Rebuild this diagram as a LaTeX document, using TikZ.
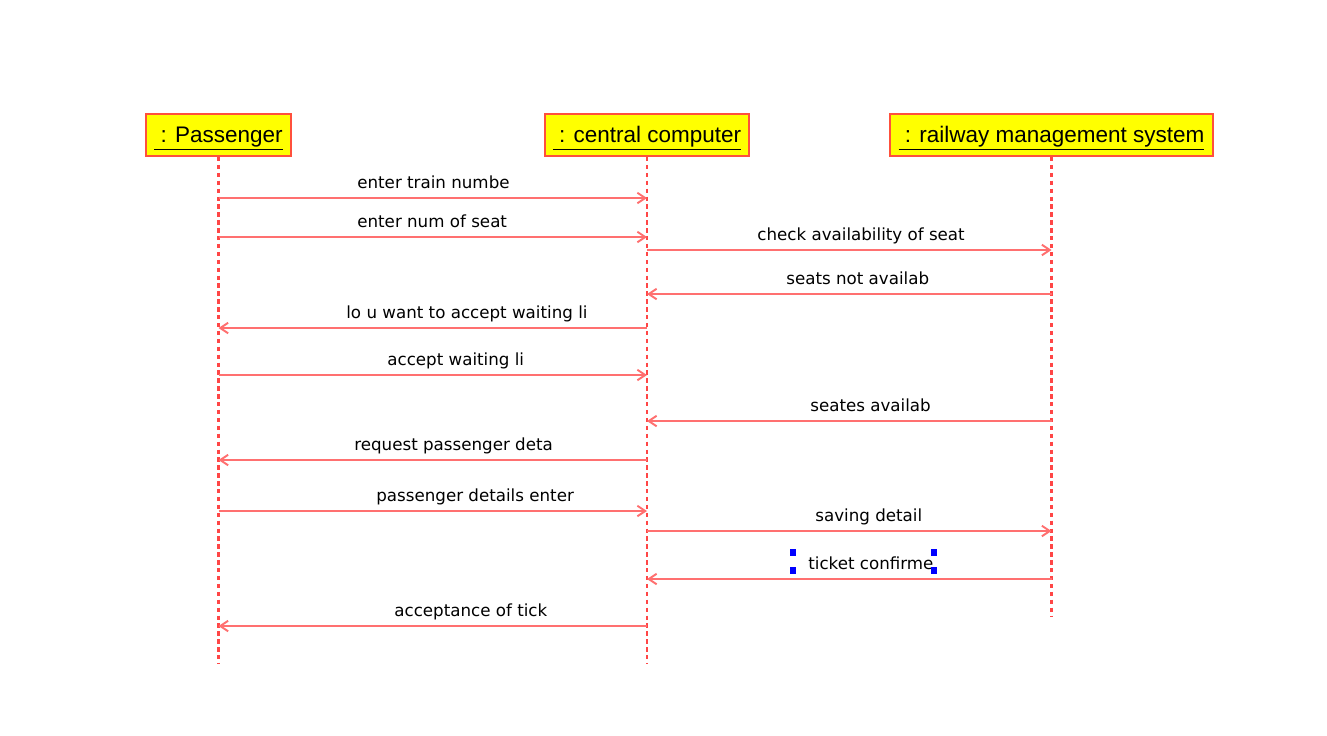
\documentclass[tikz,border=0pt]{standalone}
\usepackage{fontspec}
\setmainfont{Liberation Sans}
\newfontfamily\msgfont{DejaVu Sans}
\usetikzlibrary{arrows.meta}
\definecolor{lineRed}{RGB}{255,112,112}
\definecolor{lifeRed}{RGB}{255,70,70}
\definecolor{boxRed}{RGB}{255,80,60}
\definecolor{objYellow}{RGB}{255,255,0}
\definecolor{selBlue}{RGB}{0,0,255}

\begin{document}
\begin{tikzpicture}[
    x=0.02cm, y=-0.02cm,
    obj/.style={rectangle, draw=boxRed, fill=objYellow, line width=1.1pt, minimum height=0.84cm, inner sep=0pt, text height=0.4cm, text depth=0.12cm, font=\fontsize{12.8}{14}\selectfont},
    lifeline/.style={draw=lifeRed, line width=1.3pt, dash pattern=on 2.5pt off 2pt},
    msg/.style={draw=lineRed, line width=1.1pt, -{Straight Barb[length=4.5pt,width=6pt]}},
    lbl/.style={font=\msgfont\fontsize{9.5}{11}\selectfont, anchor=base west, inner sep=0pt},
    handle/.style={rectangle, fill=selBlue, minimum width=0.11cm, minimum height=0.14cm, inner sep=0pt}
]
    \useasboundingbox (0,0) rectangle (1327,735);

    % Objects
    \node[obj, minimum width=2.9cm] (pass) at (218.5,135) {\underline{\ : Passenger}};
    \node[obj, minimum width=4.08cm] (cc) at (647,135) {\underline{\ : central computer}};
    \node[obj, minimum width=6.46cm] (rms) at (1051.5,135) {\underline{\ : railway management system}};

    % Lifelines
    \coordinate (passEnd) at (pass.south |- 0,663);
    \coordinate (ccEnd) at (cc.south |- 0,663);
    \coordinate (rmsEnd) at (rms.south |- 0,617);
    \draw[lifeline] (pass.south) -- (passEnd);
    \draw[lifeline] (cc.south) -- (ccEnd);
    \draw[lifeline] (rms.south) -- (rmsEnd);

    % Messages
    \draw[msg] (pass |- 0,198) -- (cc |- 0,198);
    \node[lbl] (l1) at (357,188) {enter train numbe};
    \draw[msg] (pass |- 0,237) -- (cc |- 0,237);
    \node[lbl] (l2) at (357,227) {enter num of seat};
    \draw[msg] (cc |- 0,250) -- (rms |- 0,250);
    \node[lbl] (l3) at (757,240) {check availability of seat};
    \draw[msg] (rms |- 0,294) -- (cc |- 0,294);
    \node[lbl] (l4) at (786,284) {seats not availab};
    \draw[msg] (cc |- 0,328) -- (pass |- 0,328);
    \node[lbl] (l5) at (346,318) {lo u want to accept waiting li};
    \draw[msg] (pass |- 0,375) -- (cc |- 0,375);
    \node[lbl] (l6) at (387,365) {accept waiting li};
    \draw[msg] (rms |- 0,421) -- (cc |- 0,421);
    \node[lbl] (l7) at (810,411) {seates availab};
    \draw[msg] (cc |- 0,460) -- (pass |- 0,460);
    \node[lbl] (l8) at (354,450) {request passenger deta};
    \draw[msg] (pass |- 0,511) -- (cc |- 0,511);
    \node[lbl] (l9) at (376,501) {passenger details enter};
    \draw[msg] (cc |- 0,531) -- (rms |- 0,531);
    \node[lbl] (l10) at (815,521) {saving detail};
    \draw[msg] (rms |- 0,579) -- (cc |- 0,579);
    \node[lbl] (l11) at (808,569) {ticket confirme};
    \draw[msg] (cc |- 0,626) -- (pass |- 0,626);
    \node[lbl] (l12) at (394,616) {acceptance of tick};

    % Selection handles
    \node[handle] (h1) at (793,552) {};
    \node[handle] (h2) at (793,570) {};
    \node[handle] (h3) at (934,552) {};
    \node[handle] (h4) at (934,570) {};
\end{tikzpicture}
\end{document}
